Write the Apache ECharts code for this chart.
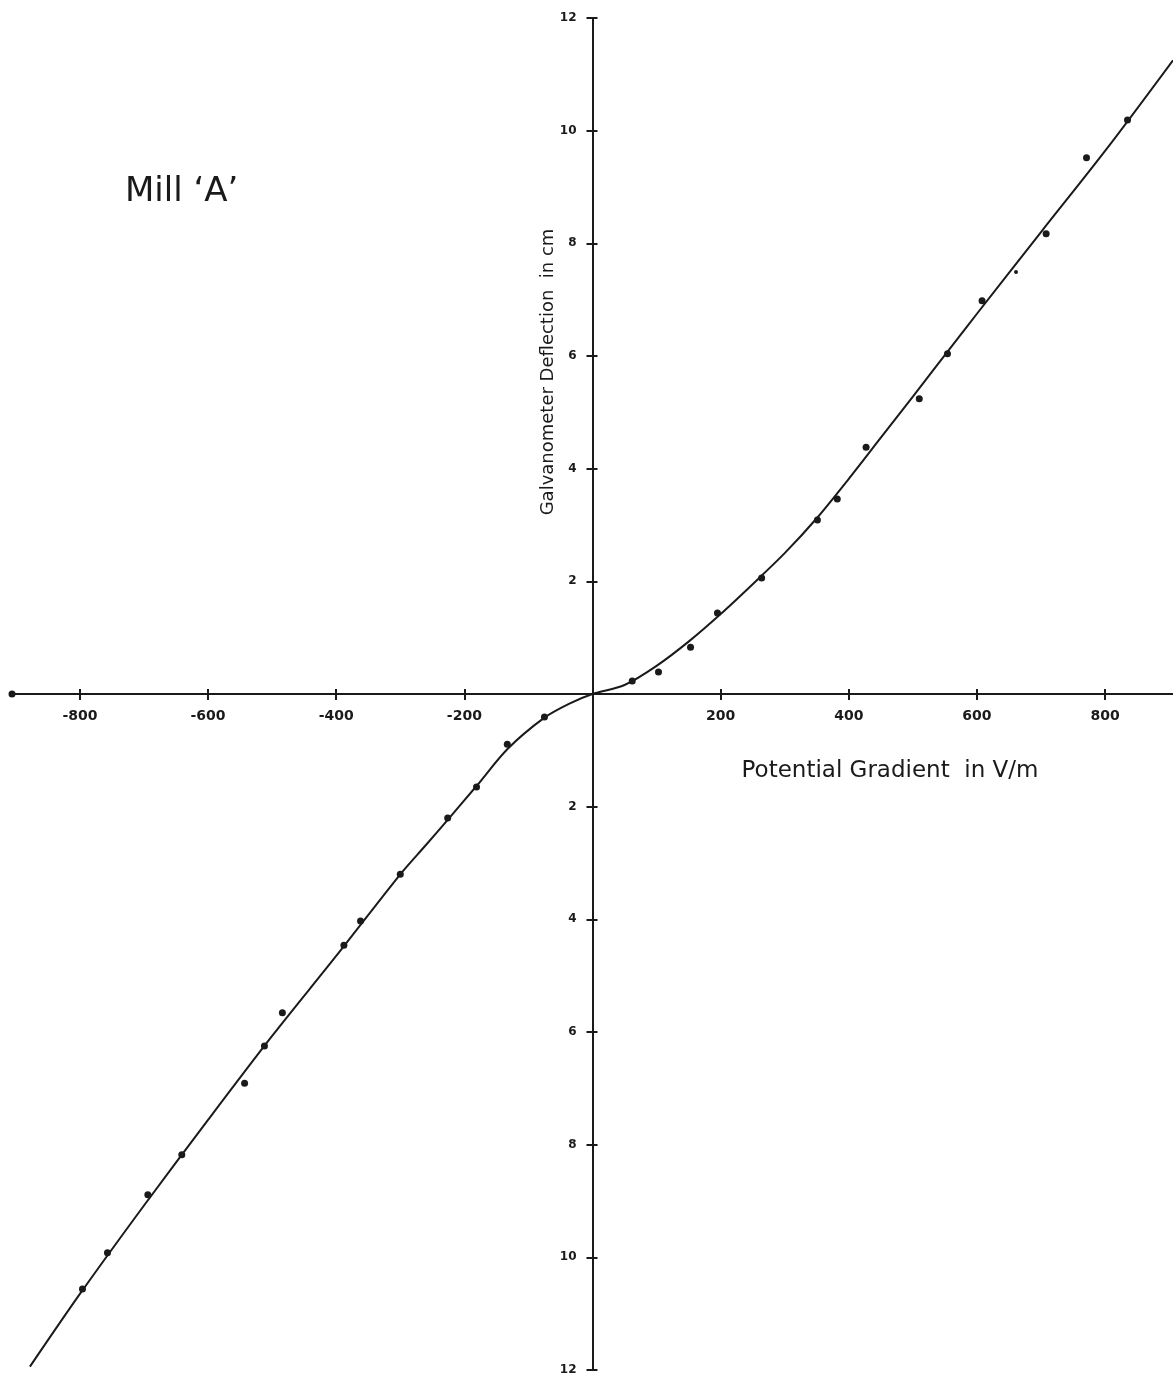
<!DOCTYPE html>
<html>
<head>
<meta charset="utf-8">
<title>Mill 'A'</title>
<script src="https://cdn.jsdelivr.net/npm/echarts@6/dist/echarts.min.js"></script>
<style>
  html, body { margin: 0; padding: 0; background: #fff; }
  #chart { width: 1173px; height: 1381px; }
</style>
</head>
<body>
<div id="chart"></div>
<script>
// 刻度（x 轴按 200 一格，y 轴按 2 cm 一格）
const xTicks = [-800, -600, -400, -200, 200, 400, 600, 800]
const yTicks = [-12, -10, -8, -6, -4, -2, 2, 4, 6, 8, 10, 12]

// 测量点：电位梯度 (V/m) 和 检流计偏转 (cm)
const pointX = [62, 103, 153, 195, 264, 351, 382, 427, 510, 554, 608, 708, 771, 835,
  -75, -133, -181, -226, -300, -362, -388, -484, -512, -543, -641, -694, -757, -796]
const pointY = [0.23, 0.39, 0.83, 1.44, 2.06, 3.09, 3.46, 4.38, 5.24, 6.04, 6.98, 8.17, 9.52, 10.19,
  -0.41, -0.89, -1.65, -2.20, -3.20, -4.03, -4.46, -5.66, -6.25, -6.91, -8.18, -8.89, -9.92, -10.56]
// 小点（画得比较淡的那一个）
const smallX = [661]
const smallY = [7.49]

// 手绘的拟合曲线
const curveX = [-878, -800, -700, -600, -500, -400, -300, -260, -225, -180, -133, -75, -36, 0,
  50, 100, 150, 200, 250, 300, 350, 400, 450, 500, 572, 600, 700, 800, 906]
const curveY = [-11.94, -10.65, -9.08, -7.56, -6.07, -4.65, -3.2, -2.68, -2.22, -1.62, -0.98, -0.42, -0.17, 0,
  0.16, 0.5, 0.93, 1.42, 1.95, 2.5, 3.12, 3.82, 4.55, 5.28, 6.34, 6.75, 8.2, 9.64, 11.25]

const ink = '#1a1a1a'
const font = 'DejaVu Sans'

const zip = (xs, ys) => xs.map((x, i) => [x, ys[i]])

const chart = echarts.init(document.getElementById('chart'))

// 轴标签跟着 0 线走：v6 里 onZero 时标签留在网格边上，所以用不显示符号的散点来放标签
const tickLabelSeries = (data, position, distance, fontSize, formatter) => ({
  type: 'scatter',
  data: data,
  symbolSize: 0,
  silent: true,
  itemStyle: { opacity: 1 },
  label: {
    show: true,
    position: position,
    distance: distance,
    fontFamily: font,
    fontSize: fontSize,
    fontWeight: 'bold',
    color: ink,
    opacity: 1,
    formatter: formatter
  },
  z: 1
})

const option = {
  backgroundColor: '#fff',
  animation: false,
  title: {
    text: 'Mill ‘A’',
    left: 120,
    top: 170,
    textStyle: { fontFamily: font, fontSize: 34, fontWeight: 'normal', color: ink }
  },
  grid: {
    left: 12,
    right: 0,
    top: 18,
    bottom: 11,
    containLabel: false,
    outerBoundsMode: 'none'
  },
  // 两根 x 轴叠在 0 线上，让刻度线穿过轴线
  xAxis: [
    {
      type: 'value',
      min: -906,
      max: 906,
      position: 'bottom',
      axisLine: {
        onZero: true,
        symbol: ['circle', 'none'],
        symbolSize: [7, 7],
        lineStyle: { color: ink, width: 2 }
      },
      axisTick: { show: true, length: 6, customValues: xTicks, lineStyle: { color: ink, width: 2 } },
      axisLabel: { show: false },
      splitLine: { show: false }
    },
    {
      type: 'value',
      min: -906,
      max: 906,
      position: 'top',
      axisLine: { show: false, onZero: true, onZeroAxisIndex: 0 },
      axisTick: { show: true, length: 5, customValues: xTicks, lineStyle: { color: ink, width: 2 } },
      axisLabel: { show: false },
      splitLine: { show: false }
    }
  ],
  yAxis: [
    {
      type: 'value',
      min: -12,
      max: 12,
      position: 'left',
      axisLine: { onZero: true, lineStyle: { color: ink, width: 2 } },
      axisTick: { show: true, length: 6, customValues: yTicks, lineStyle: { color: ink, width: 2 } },
      axisLabel: { show: false },
      splitLine: { show: false }
    },
    {
      type: 'value',
      min: -12,
      max: 12,
      position: 'right',
      axisLine: { show: false, onZero: true, onZeroAxisIndex: 0 },
      axisTick: { show: true, length: 5, customValues: yTicks, lineStyle: { color: ink, width: 2 } },
      axisLabel: { show: false },
      splitLine: { show: false }
    }
  ],
  graphic: [
    {
      // y 轴标题，竖排
      type: 'text',
      x: 548,
      y: 372,
      rotation: Math.PI / 2,
      style: {
        text: 'Galvanometer Deflection  in cm',
        fontFamily: font,
        fontSize: 18,
        fill: ink,
        align: 'center',
        verticalAlign: 'middle'
      }
    },
    {
      // x 轴标题
      type: 'text',
      x: 890,
      y: 771,
      style: {
        text: 'Potential Gradient  in V/m',
        fontFamily: font,
        fontSize: 23,
        fill: ink,
        align: 'center',
        verticalAlign: 'middle'
      }
    }
  ],
  series: [
    {
      name: 'curve',
      type: 'line',
      data: zip(curveX, curveY),
      smooth: 0.3,
      showSymbol: false,
      lineStyle: { color: ink, width: 2 },
      z: 2
    },
    {
      name: 'readings',
      type: 'scatter',
      data: zip(pointX, pointY),
      symbolSize: 7,
      itemStyle: { color: ink, opacity: 1 },
      z: 3
    },
    {
      name: 'faint reading',
      type: 'scatter',
      data: zip(smallX, smallY),
      symbolSize: 4,
      itemStyle: { color: ink, opacity: 1 },
      z: 3
    },
    tickLabelSeries(xTicks.map(v => [v, 0]), 'bottom', 15, 14, p => String(p.value[0])),
    tickLabelSeries(yTicks.map(v => [0, v]), 'left', 16, 12, p => String(Math.abs(p.value[1])))
  ]
}

chart.setOption(option)
</script>
</body>
</html>
